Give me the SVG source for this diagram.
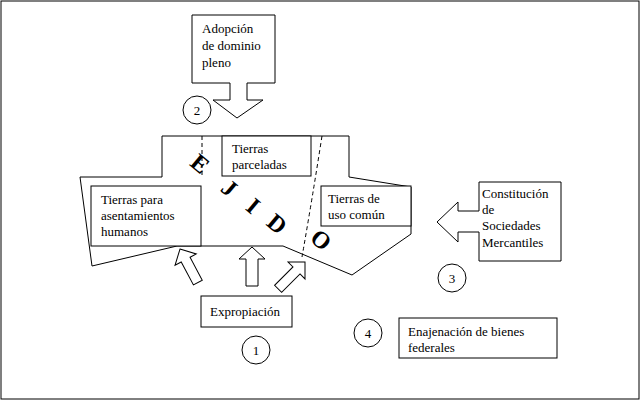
<svg xmlns="http://www.w3.org/2000/svg" width="640" height="400" viewBox="0 0 640 400">
<style>
.s{fill:#fff;stroke:#000;stroke-width:1}
.n{fill:none;stroke:#000;stroke-width:1}
.d{fill:none;stroke:#000;stroke-width:1;stroke-dasharray:4,3}
text{font-family:"Liberation Serif",serif;font-size:13px;fill:#000}
.e{font-size:24px;font-weight:bold}
</style>
<rect x="0" y="0" width="640" height="400" fill="#fff"/>
<rect x="1" y="1" width="638" height="398" class="n"/>
<g id="ejido">
<path class="s" d="M162,136 H349 V177 L411,187 V234 L352,275 L283,246 H177 L92,266 L80,177 H162 Z"/>
<path class="d" d="M202,136 V176"/>
<path class="d" d="M322,136 Q312,200 302,257"/>
<g transform="translate(195,170) rotate(40)"><text class="e" text-anchor="middle">E</text></g>
<g transform="translate(224,194) rotate(40)"><text class="e" text-anchor="middle">J</text></g>
<g transform="translate(248,212) rotate(40)"><text class="e" text-anchor="middle">I</text></g>
<g transform="translate(272,230) rotate(40)"><text class="e" text-anchor="middle">D</text></g>
<g transform="translate(316,246) rotate(40)"><text class="e" text-anchor="middle">O</text></g>
</g>
<g id="humanos"><rect class="s" x="91" y="186" width="110" height="60"/><text x="101" y="204">Tierras  para</text><text x="101" y="220">asentamientos</text><text x="101" y="236">humanos</text></g>
<g id="parceladas"><rect class="s" x="222" y="136" width="89" height="40"/><text x="232" y="153">Tierras</text><text x="232" y="169">parceladas</text></g>
<g id="comun"><rect class="s" x="321" y="186" width="90" height="40"/><text x="328" y="203">Tierras de</text><text x="328" y="219">uso común</text></g>
<g id="adopcion"><path class="s" d="M192,15 H275 V83 H247 V100 H263 L237,118 L213,100 H230 V83 H192 Z"/><text x="202" y="33">Adopción</text><text x="202" y="50">de dominio</text><text x="202" y="67">pleno</text></g>
<g id="sociedades"><path class="s" d="M479,182 H561 V261 H479 V232 H458 V242 L437,222 L458,202 V211 H479 Z"/><text x="482" y="198">Constitución</text><text x="482" y="214">de</text><text x="482" y="230">Sociedades</text><text x="482" y="247">Mercantiles</text></g>
<g id="expropiacion"><rect class="s" x="201" y="296" width="91" height="31"/><text x="210" y="316">Expropiación</text></g>
<g id="enajenacion"><rect class="s" x="399" y="318" width="158" height="40"/><text x="408" y="336">Enajenación de bienes</text><text x="408" y="352">federales</text></g>
<g id="c1"><circle class="s" cx="256" cy="350" r="14"/><text x="256" y="355" text-anchor="middle">1</text></g>
<g id="c2"><circle class="s" cx="197" cy="110" r="14"/><text x="197" y="115" text-anchor="middle">2</text></g>
<g id="c3"><circle class="s" cx="452" cy="278" r="14"/><text x="452" y="283" text-anchor="middle">3</text></g>
<g id="c4"><circle class="s" cx="368" cy="333" r="14"/><text x="368" y="338" text-anchor="middle">4</text></g>
<g id="connectors">
<path class="s" d="M252,247 L265,259 H258 V286 H246 V259 H239 Z"/>
<g transform="translate(180,249) rotate(-28)"><path class="s" d="M0,0 L12,12 H5 V38 H-5 V12 H-12 Z"/></g>
<g transform="translate(305,262) rotate(45)"><path class="s" d="M0,0 L12,12 H5 V38 H-5 V12 H-12 Z"/></g>
</g>
</svg>
